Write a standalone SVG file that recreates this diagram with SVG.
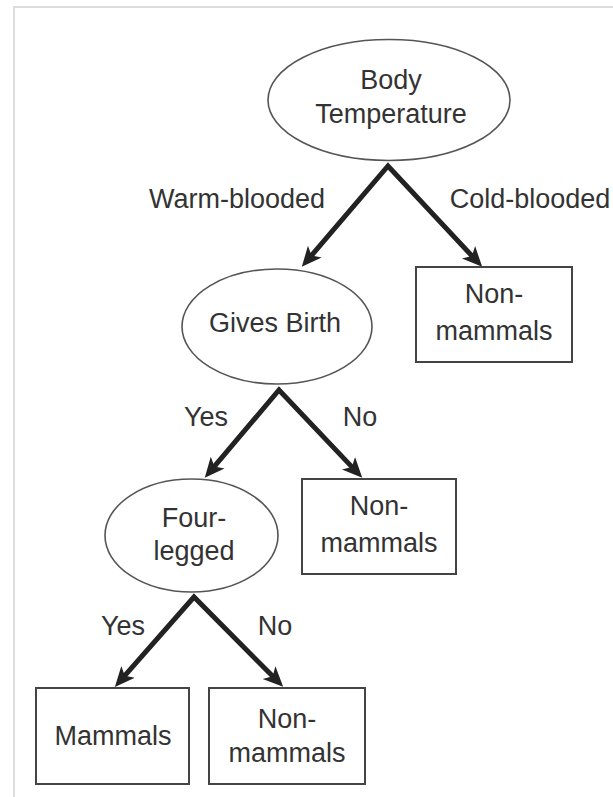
<svg xmlns="http://www.w3.org/2000/svg" width="613" height="797" viewBox="0 0 613 797">
<style>
text { font-family: "Liberation Sans", Arial, sans-serif; font-size: 27px; fill: #333; text-anchor: middle; }
.oval { fill: #fff; stroke: #555; stroke-width: 1.6; }
.box { fill: #fff; stroke: #444; stroke-width: 2; }
.edge { fill: none; stroke: #222; stroke-width: 5; stroke-linejoin: miter; stroke-miterlimit: 10; marker-start: url(#arr); marker-end: url(#arr); }
.frame { stroke: #ddd; stroke-width: 2; fill: none; }
</style>
<defs>
<marker id="arr" markerUnits="userSpaceOnUse" markerWidth="22" markerHeight="22" viewBox="0 0 22 22" refX="8" refY="11" orient="auto-start-reverse">
<path d="M20,11 L0,2 L5,11 L0,20 Z" fill="#222"/>
</marker>
</defs>
<path class="frame" d="M14,797 L14,7 L613,7"/>
<g id="connectors">
<path class="edge" d="M309.6,257.7 L388,166 L474,258.1"/>
<path class="edge" d="M212.5,468.7 L279,390 L354,469.1"/>
<path class="edge" d="M122.8,677.9 L194,597 L274.7,678.3"/>
</g>
<g id="edge-labels">
<text x="237" y="208">Warm-blooded</text>
<text x="530" y="208">Cold-blooded</text>
<text x="206" y="426">Yes</text>
<text x="360" y="426">No</text>
<text x="123" y="635">Yes</text>
<text x="275" y="635">No</text>
</g>
<g id="n-body-temperature">
<ellipse class="oval" cx="389" cy="100" rx="121" ry="60.5"/>
<text x="391" y="89">Body</text>
<text x="391" y="123">Temperature</text>
</g>
<g id="n-nonmammals-1">
<rect class="box" x="416" y="267" width="156" height="95"/>
<text x="494" y="303">Non-</text>
<text x="494" y="340">mammals</text>
</g>
<g id="n-gives-birth">
<ellipse class="oval" cx="277" cy="326.5" rx="95" ry="57.5"/>
<text x="275" y="332">Gives Birth</text>
</g>
<g id="n-nonmammals-2">
<rect class="box" x="302" y="479" width="154" height="95"/>
<text x="379" y="515">Non-</text>
<text x="379" y="552">mammals</text>
</g>
<g id="n-four-legged">
<ellipse class="oval" cx="191.5" cy="535.5" rx="86.5" ry="56.5"/>
<text x="194" y="527">Four-</text>
<text x="194" y="560">legged</text>
</g>
<g id="n-mammals">
<rect class="box" x="36" y="688" width="153" height="96"/>
<text x="113" y="745">Mammals</text>
</g>
<g id="n-nonmammals-3">
<rect class="box" x="209" y="688" width="156" height="96"/>
<text x="287" y="728">Non-</text>
<text x="287" y="762">mammals</text>
</g>
</svg>
